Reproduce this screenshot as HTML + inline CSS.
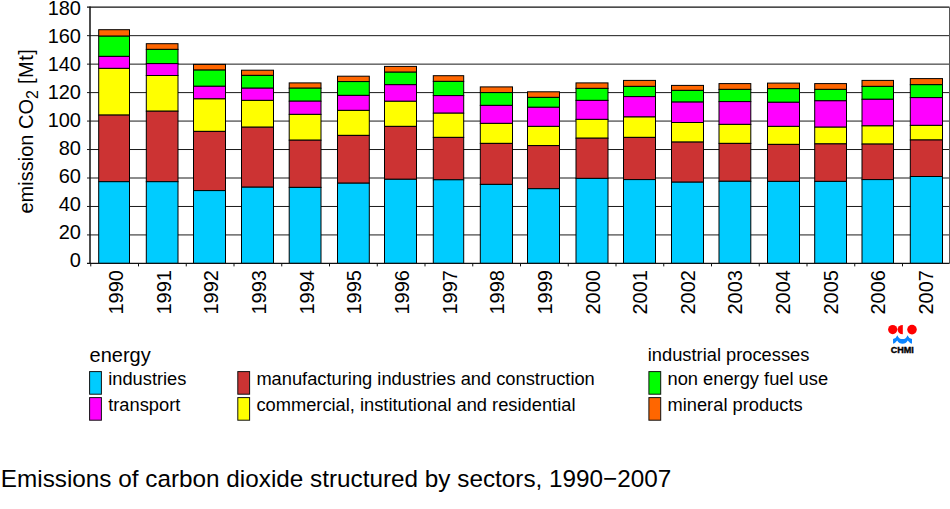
<!DOCTYPE html>
<html><head><meta charset="utf-8"><style>
html,body{margin:0;padding:0;background:#fff;}
body{width:950px;height:509px;overflow:hidden;position:relative;font-family:"Liberation Sans",sans-serif;}
svg{position:absolute;left:0;top:0;}
text{font-family:"Liberation Sans",sans-serif;}
</style></head><body>
<svg width="950" height="509" viewBox="0 0 950 509">
<line x1="87" y1="234.93" x2="949.5" y2="234.93" stroke="#1a1a1a" stroke-width="1"/>
<line x1="87" y1="206.47" x2="949.5" y2="206.47" stroke="#1a1a1a" stroke-width="1"/>
<line x1="87" y1="178" x2="949.5" y2="178" stroke="#1a1a1a" stroke-width="1"/>
<line x1="87" y1="149.53" x2="949.5" y2="149.53" stroke="#1a1a1a" stroke-width="1"/>
<line x1="87" y1="121.07" x2="949.5" y2="121.07" stroke="#1a1a1a" stroke-width="1"/>
<line x1="87" y1="92.6" x2="949.5" y2="92.6" stroke="#1a1a1a" stroke-width="1"/>
<line x1="87" y1="64.13" x2="949.5" y2="64.13" stroke="#1a1a1a" stroke-width="1"/>
<line x1="87" y1="35.67" x2="949.5" y2="35.67" stroke="#1a1a1a" stroke-width="1"/>
<line x1="87" y1="7.2" x2="949.5" y2="7.2" stroke="#111" stroke-width="1.2"/>
<line x1="949.5" y1="7.2" x2="949.5" y2="263.4" stroke="#555" stroke-width="1"/>
<rect x="98.7" y="29.7" width="30.8" height="6.5" fill="#FF6600" stroke="#000" stroke-width="1"/>
<rect x="98.7" y="36.2" width="30.8" height="20.2" fill="#00FF00" stroke="#000" stroke-width="1"/>
<rect x="98.7" y="56.4" width="30.8" height="12" fill="#FF00FF" stroke="#000" stroke-width="1"/>
<rect x="98.7" y="68.4" width="30.8" height="46.7" fill="#FFFF00" stroke="#000" stroke-width="1"/>
<rect x="98.7" y="115.1" width="30.8" height="66.6" fill="#CC3333" stroke="#000" stroke-width="1"/>
<rect x="98.7" y="181.7" width="30.8" height="81.7" fill="#00CCFF" stroke="#000" stroke-width="1"/>
<rect x="146.3" y="43.7" width="31.7" height="5.7" fill="#FF6600" stroke="#000" stroke-width="1"/>
<rect x="146.3" y="49.4" width="31.7" height="14.2" fill="#00FF00" stroke="#000" stroke-width="1"/>
<rect x="146.3" y="63.6" width="31.7" height="11.9" fill="#FF00FF" stroke="#000" stroke-width="1"/>
<rect x="146.3" y="75.5" width="31.7" height="35.7" fill="#FFFF00" stroke="#000" stroke-width="1"/>
<rect x="146.3" y="111.2" width="31.7" height="70.5" fill="#CC3333" stroke="#000" stroke-width="1"/>
<rect x="146.3" y="181.7" width="31.7" height="81.7" fill="#00CCFF" stroke="#000" stroke-width="1"/>
<rect x="193.5" y="64.4" width="32" height="5.7" fill="#FF6600" stroke="#000" stroke-width="1"/>
<rect x="193.5" y="70.1" width="32" height="16.2" fill="#00FF00" stroke="#000" stroke-width="1"/>
<rect x="193.5" y="86.3" width="32" height="12.6" fill="#FF00FF" stroke="#000" stroke-width="1"/>
<rect x="193.5" y="98.9" width="32" height="32.5" fill="#FFFF00" stroke="#000" stroke-width="1"/>
<rect x="193.5" y="131.4" width="32" height="59.2" fill="#CC3333" stroke="#000" stroke-width="1"/>
<rect x="193.5" y="190.6" width="32" height="72.8" fill="#00CCFF" stroke="#000" stroke-width="1"/>
<rect x="241.5" y="70.2" width="32" height="5.2" fill="#FF6600" stroke="#000" stroke-width="1"/>
<rect x="241.5" y="75.4" width="32" height="12.8" fill="#00FF00" stroke="#000" stroke-width="1"/>
<rect x="241.5" y="88.2" width="32" height="12.2" fill="#FF00FF" stroke="#000" stroke-width="1"/>
<rect x="241.5" y="100.4" width="32" height="26.8" fill="#FFFF00" stroke="#000" stroke-width="1"/>
<rect x="241.5" y="127.2" width="32" height="60" fill="#CC3333" stroke="#000" stroke-width="1"/>
<rect x="241.5" y="187.2" width="32" height="76.2" fill="#00CCFF" stroke="#000" stroke-width="1"/>
<rect x="289.2" y="82.9" width="31.8" height="5.3" fill="#FF6600" stroke="#000" stroke-width="1"/>
<rect x="289.2" y="88.2" width="31.8" height="13" fill="#00FF00" stroke="#000" stroke-width="1"/>
<rect x="289.2" y="101.2" width="31.8" height="13.2" fill="#FF00FF" stroke="#000" stroke-width="1"/>
<rect x="289.2" y="114.4" width="31.8" height="25.8" fill="#FFFF00" stroke="#000" stroke-width="1"/>
<rect x="289.2" y="140.2" width="31.8" height="47.2" fill="#CC3333" stroke="#000" stroke-width="1"/>
<rect x="289.2" y="187.4" width="31.8" height="76" fill="#00CCFF" stroke="#000" stroke-width="1"/>
<rect x="337.5" y="76.2" width="31.8" height="5.4" fill="#FF6600" stroke="#000" stroke-width="1"/>
<rect x="337.5" y="81.6" width="31.8" height="13.8" fill="#00FF00" stroke="#000" stroke-width="1"/>
<rect x="337.5" y="95.4" width="31.8" height="15" fill="#FF00FF" stroke="#000" stroke-width="1"/>
<rect x="337.5" y="110.4" width="31.8" height="25" fill="#FFFF00" stroke="#000" stroke-width="1"/>
<rect x="337.5" y="135.4" width="31.8" height="47.8" fill="#CC3333" stroke="#000" stroke-width="1"/>
<rect x="337.5" y="183.2" width="31.8" height="80.2" fill="#00CCFF" stroke="#000" stroke-width="1"/>
<rect x="384.5" y="66.4" width="32" height="5.8" fill="#FF6600" stroke="#000" stroke-width="1"/>
<rect x="384.5" y="72.2" width="32" height="12.5" fill="#00FF00" stroke="#000" stroke-width="1"/>
<rect x="384.5" y="84.7" width="32" height="16.6" fill="#FF00FF" stroke="#000" stroke-width="1"/>
<rect x="384.5" y="101.3" width="32" height="25.1" fill="#FFFF00" stroke="#000" stroke-width="1"/>
<rect x="384.5" y="126.4" width="32" height="52.9" fill="#CC3333" stroke="#000" stroke-width="1"/>
<rect x="384.5" y="179.3" width="32" height="84.1" fill="#00CCFF" stroke="#000" stroke-width="1"/>
<rect x="433.3" y="75.7" width="30.4" height="5.7" fill="#FF6600" stroke="#000" stroke-width="1"/>
<rect x="433.3" y="81.4" width="30.4" height="14.2" fill="#00FF00" stroke="#000" stroke-width="1"/>
<rect x="433.3" y="95.6" width="30.4" height="17.6" fill="#FF00FF" stroke="#000" stroke-width="1"/>
<rect x="433.3" y="113.2" width="30.4" height="24.2" fill="#FFFF00" stroke="#000" stroke-width="1"/>
<rect x="433.3" y="137.4" width="30.4" height="42.4" fill="#CC3333" stroke="#000" stroke-width="1"/>
<rect x="433.3" y="179.8" width="30.4" height="83.6" fill="#00CCFF" stroke="#000" stroke-width="1"/>
<rect x="480.3" y="86.9" width="32.2" height="5.7" fill="#FF6600" stroke="#000" stroke-width="1"/>
<rect x="480.3" y="92.6" width="32.2" height="12.8" fill="#00FF00" stroke="#000" stroke-width="1"/>
<rect x="480.3" y="105.4" width="32.2" height="18" fill="#FF00FF" stroke="#000" stroke-width="1"/>
<rect x="480.3" y="123.4" width="32.2" height="20" fill="#FFFF00" stroke="#000" stroke-width="1"/>
<rect x="480.3" y="143.4" width="32.2" height="41" fill="#CC3333" stroke="#000" stroke-width="1"/>
<rect x="480.3" y="184.4" width="32.2" height="79" fill="#00CCFF" stroke="#000" stroke-width="1"/>
<rect x="527.5" y="91.8" width="32" height="5.6" fill="#FF6600" stroke="#000" stroke-width="1"/>
<rect x="527.5" y="97.4" width="32" height="9.9" fill="#00FF00" stroke="#000" stroke-width="1"/>
<rect x="527.5" y="107.3" width="32" height="19.1" fill="#FF00FF" stroke="#000" stroke-width="1"/>
<rect x="527.5" y="126.4" width="32" height="19.2" fill="#FFFF00" stroke="#000" stroke-width="1"/>
<rect x="527.5" y="145.6" width="32" height="43.1" fill="#CC3333" stroke="#000" stroke-width="1"/>
<rect x="527.5" y="188.7" width="32" height="74.7" fill="#00CCFF" stroke="#000" stroke-width="1"/>
<rect x="576" y="82.9" width="32" height="5.5" fill="#FF6600" stroke="#000" stroke-width="1"/>
<rect x="576" y="88.4" width="32" height="12" fill="#00FF00" stroke="#000" stroke-width="1"/>
<rect x="576" y="100.4" width="32" height="19" fill="#FF00FF" stroke="#000" stroke-width="1"/>
<rect x="576" y="119.4" width="32" height="18.8" fill="#FFFF00" stroke="#000" stroke-width="1"/>
<rect x="576" y="138.2" width="32" height="40.2" fill="#CC3333" stroke="#000" stroke-width="1"/>
<rect x="576" y="178.4" width="32" height="85" fill="#00CCFF" stroke="#000" stroke-width="1"/>
<rect x="623.5" y="80.4" width="32" height="6" fill="#FF6600" stroke="#000" stroke-width="1"/>
<rect x="623.5" y="86.4" width="32" height="10.2" fill="#00FF00" stroke="#000" stroke-width="1"/>
<rect x="623.5" y="96.6" width="32" height="20.4" fill="#FF00FF" stroke="#000" stroke-width="1"/>
<rect x="623.5" y="117" width="32" height="20.4" fill="#FFFF00" stroke="#000" stroke-width="1"/>
<rect x="623.5" y="137.4" width="32" height="42.2" fill="#CC3333" stroke="#000" stroke-width="1"/>
<rect x="623.5" y="179.6" width="32" height="83.8" fill="#00CCFF" stroke="#000" stroke-width="1"/>
<rect x="671.5" y="85.4" width="32" height="5" fill="#FF6600" stroke="#000" stroke-width="1"/>
<rect x="671.5" y="90.4" width="32" height="11.7" fill="#00FF00" stroke="#000" stroke-width="1"/>
<rect x="671.5" y="102.1" width="32" height="20.4" fill="#FF00FF" stroke="#000" stroke-width="1"/>
<rect x="671.5" y="122.5" width="32" height="19.6" fill="#FFFF00" stroke="#000" stroke-width="1"/>
<rect x="671.5" y="142.1" width="32" height="40.1" fill="#CC3333" stroke="#000" stroke-width="1"/>
<rect x="671.5" y="182.2" width="32" height="81.2" fill="#00CCFF" stroke="#000" stroke-width="1"/>
<rect x="719" y="83.6" width="31.8" height="5.8" fill="#FF6600" stroke="#000" stroke-width="1"/>
<rect x="719" y="89.4" width="31.8" height="12.2" fill="#00FF00" stroke="#000" stroke-width="1"/>
<rect x="719" y="101.6" width="31.8" height="22.8" fill="#FF00FF" stroke="#000" stroke-width="1"/>
<rect x="719" y="124.4" width="31.8" height="19" fill="#FFFF00" stroke="#000" stroke-width="1"/>
<rect x="719" y="143.4" width="31.8" height="37.9" fill="#CC3333" stroke="#000" stroke-width="1"/>
<rect x="719" y="181.3" width="31.8" height="82.1" fill="#00CCFF" stroke="#000" stroke-width="1"/>
<rect x="767.5" y="83.1" width="32" height="5.6" fill="#FF6600" stroke="#000" stroke-width="1"/>
<rect x="767.5" y="88.7" width="32" height="13.6" fill="#00FF00" stroke="#000" stroke-width="1"/>
<rect x="767.5" y="102.3" width="32" height="24.1" fill="#FF00FF" stroke="#000" stroke-width="1"/>
<rect x="767.5" y="126.4" width="32" height="18" fill="#FFFF00" stroke="#000" stroke-width="1"/>
<rect x="767.5" y="144.4" width="32" height="37" fill="#CC3333" stroke="#000" stroke-width="1"/>
<rect x="767.5" y="181.4" width="32" height="82" fill="#00CCFF" stroke="#000" stroke-width="1"/>
<rect x="814.7" y="83.6" width="31.8" height="5.8" fill="#FF6600" stroke="#000" stroke-width="1"/>
<rect x="814.7" y="89.4" width="31.8" height="11.4" fill="#00FF00" stroke="#000" stroke-width="1"/>
<rect x="814.7" y="100.8" width="31.8" height="26.4" fill="#FF00FF" stroke="#000" stroke-width="1"/>
<rect x="814.7" y="127.2" width="31.8" height="16.7" fill="#FFFF00" stroke="#000" stroke-width="1"/>
<rect x="814.7" y="143.9" width="31.8" height="37.5" fill="#CC3333" stroke="#000" stroke-width="1"/>
<rect x="814.7" y="181.4" width="31.8" height="82" fill="#00CCFF" stroke="#000" stroke-width="1"/>
<rect x="862" y="80.4" width="31.5" height="6" fill="#FF6600" stroke="#000" stroke-width="1"/>
<rect x="862" y="86.4" width="31.5" height="12.9" fill="#00FF00" stroke="#000" stroke-width="1"/>
<rect x="862" y="99.3" width="31.5" height="26.6" fill="#FF00FF" stroke="#000" stroke-width="1"/>
<rect x="862" y="125.9" width="31.5" height="18.2" fill="#FFFF00" stroke="#000" stroke-width="1"/>
<rect x="862" y="144.1" width="31.5" height="35.5" fill="#CC3333" stroke="#000" stroke-width="1"/>
<rect x="862" y="179.6" width="31.5" height="83.8" fill="#00CCFF" stroke="#000" stroke-width="1"/>
<rect x="910.3" y="78.6" width="32.2" height="6.1" fill="#FF6600" stroke="#000" stroke-width="1"/>
<rect x="910.3" y="84.7" width="32.2" height="12.9" fill="#00FF00" stroke="#000" stroke-width="1"/>
<rect x="910.3" y="97.6" width="32.2" height="27.8" fill="#FF00FF" stroke="#000" stroke-width="1"/>
<rect x="910.3" y="125.4" width="32.2" height="14.6" fill="#FFFF00" stroke="#000" stroke-width="1"/>
<rect x="910.3" y="140" width="32.2" height="36.5" fill="#CC3333" stroke="#000" stroke-width="1"/>
<rect x="910.3" y="176.5" width="32.2" height="86.9" fill="#00CCFF" stroke="#000" stroke-width="1"/>
<line x1="90" y1="6.6" x2="90" y2="264" stroke="#111" stroke-width="1.5"/>
<line x1="87" y1="263.4" x2="949.5" y2="263.4" stroke="#111" stroke-width="1.2"/>
<line x1="90.75" y1="263.4" x2="90.75" y2="266.4" stroke="#111" stroke-width="1"/>
<line x1="138.5" y1="263.4" x2="138.5" y2="266.4" stroke="#111" stroke-width="1"/>
<line x1="186.25" y1="263.4" x2="186.25" y2="266.4" stroke="#111" stroke-width="1"/>
<line x1="234" y1="263.4" x2="234" y2="266.4" stroke="#111" stroke-width="1"/>
<line x1="281.75" y1="263.4" x2="281.75" y2="266.4" stroke="#111" stroke-width="1"/>
<line x1="329.5" y1="263.4" x2="329.5" y2="266.4" stroke="#111" stroke-width="1"/>
<line x1="377.25" y1="263.4" x2="377.25" y2="266.4" stroke="#111" stroke-width="1"/>
<line x1="425" y1="263.4" x2="425" y2="266.4" stroke="#111" stroke-width="1"/>
<line x1="472.75" y1="263.4" x2="472.75" y2="266.4" stroke="#111" stroke-width="1"/>
<line x1="520.5" y1="263.4" x2="520.5" y2="266.4" stroke="#111" stroke-width="1"/>
<line x1="568.25" y1="263.4" x2="568.25" y2="266.4" stroke="#111" stroke-width="1"/>
<line x1="616" y1="263.4" x2="616" y2="266.4" stroke="#111" stroke-width="1"/>
<line x1="663.75" y1="263.4" x2="663.75" y2="266.4" stroke="#111" stroke-width="1"/>
<line x1="711.5" y1="263.4" x2="711.5" y2="266.4" stroke="#111" stroke-width="1"/>
<line x1="759.25" y1="263.4" x2="759.25" y2="266.4" stroke="#111" stroke-width="1"/>
<line x1="807" y1="263.4" x2="807" y2="266.4" stroke="#111" stroke-width="1"/>
<line x1="854.75" y1="263.4" x2="854.75" y2="266.4" stroke="#111" stroke-width="1"/>
<line x1="902.5" y1="263.4" x2="902.5" y2="266.4" stroke="#111" stroke-width="1"/>
<text transform="translate(81,267.15) scale(1,1.035)" font-size="20" text-anchor="end">0</text>
<text transform="translate(81,239.09) scale(1,1.035)" font-size="20" text-anchor="end">20</text>
<text transform="translate(81,211.03) scale(1,1.035)" font-size="20" text-anchor="end">40</text>
<text transform="translate(81,182.97) scale(1,1.035)" font-size="20" text-anchor="end">60</text>
<text transform="translate(81,154.91) scale(1,1.035)" font-size="20" text-anchor="end">80</text>
<text transform="translate(81,126.85) scale(1,1.035)" font-size="20" text-anchor="end">100</text>
<text transform="translate(81,98.79) scale(1,1.035)" font-size="20" text-anchor="end">120</text>
<text transform="translate(81,70.73) scale(1,1.035)" font-size="20" text-anchor="end">140</text>
<text transform="translate(81,42.67) scale(1,1.035)" font-size="20" text-anchor="end">160</text>
<text transform="translate(81,14.61) scale(1,1.035)" font-size="20" text-anchor="end">180</text>
<text transform="translate(122.9,270) rotate(-90)" font-size="20" text-anchor="end">1990</text>
<text transform="translate(170.56,270) rotate(-90)" font-size="20" text-anchor="end">1991</text>
<text transform="translate(218.22,270) rotate(-90)" font-size="20" text-anchor="end">1992</text>
<text transform="translate(265.88,270) rotate(-90)" font-size="20" text-anchor="end">1993</text>
<text transform="translate(313.54,270) rotate(-90)" font-size="20" text-anchor="end">1994</text>
<text transform="translate(361.2,270) rotate(-90)" font-size="20" text-anchor="end">1995</text>
<text transform="translate(408.86,270) rotate(-90)" font-size="20" text-anchor="end">1996</text>
<text transform="translate(456.52,270) rotate(-90)" font-size="20" text-anchor="end">1997</text>
<text transform="translate(504.18,270) rotate(-90)" font-size="20" text-anchor="end">1998</text>
<text transform="translate(551.84,270) rotate(-90)" font-size="20" text-anchor="end">1999</text>
<text transform="translate(599.5,270) rotate(-90)" font-size="20" text-anchor="end">2000</text>
<text transform="translate(647.16,270) rotate(-90)" font-size="20" text-anchor="end">2001</text>
<text transform="translate(694.82,270) rotate(-90)" font-size="20" text-anchor="end">2002</text>
<text transform="translate(742.48,270) rotate(-90)" font-size="20" text-anchor="end">2003</text>
<text transform="translate(790.14,270) rotate(-90)" font-size="20" text-anchor="end">2004</text>
<text transform="translate(837.8,270) rotate(-90)" font-size="20" text-anchor="end">2005</text>
<text transform="translate(885.46,270) rotate(-90)" font-size="20" text-anchor="end">2006</text>
<text transform="translate(933.12,270) rotate(-90)" font-size="20" text-anchor="end">2007</text>
<text transform="translate(32.5,213.5) rotate(-90)" font-size="20">emission CO<tspan font-size="16" dy="5">2</tspan><tspan dy="-5" letter-spacing="0.5"> [Mt]</tspan></text>
<text x="89.55" y="362.1" font-size="20">energy</text>
<text x="647.8" y="361.1" font-size="18.3">industrial processes</text>
<rect x="89.6" y="371.6" width="11.8" height="22.6" fill="#00CCFF" stroke="#111" stroke-width="1"/>
<text x="108.2" y="384.8" font-size="18.3">industries</text>
<rect x="89.6" y="397.6" width="11.8" height="22.6" fill="#FF00FF" stroke="#111" stroke-width="1"/>
<text x="108.2" y="410.8" font-size="18.3">transport</text>
<rect x="237.8" y="371.6" width="11.8" height="22.6" fill="#CC3333" stroke="#111" stroke-width="1"/>
<text x="256.4" y="384.8" font-size="18.3">manufacturing industries and construction</text>
<rect x="237.8" y="397.6" width="11.8" height="22.6" fill="#FFFF00" stroke="#111" stroke-width="1"/>
<text x="256.4" y="410.8" font-size="18.3">commercial, institutional and residential</text>
<rect x="648.9" y="371.6" width="11.8" height="22.6" fill="#00FF00" stroke="#111" stroke-width="1"/>
<text x="667.5" y="384.8" font-size="18.3">non energy fuel use</text>
<rect x="648.9" y="397.6" width="11.8" height="22.6" fill="#FF6600" stroke="#111" stroke-width="1"/>
<text x="667.5" y="410.8" font-size="18.3">mineral products</text>
<circle cx="892.7" cy="329.6" r="4.6" fill="#FF0000"/>
<path d="M902.8 324.9 A5.3 4.7 0 0 0 902.8 334.3 Z" fill="#FF0000"/>
<circle cx="912" cy="329.6" r="4.8" fill="#FF0000"/>
<path d="M893.05 339.1 Q896 338.6 897.4 335.2 Q898.8 339.1 902.5 339.1 Q906.2 339.1 907.4 335.2 Q909 338.6 912 339.1 L912 343.8 Q909.5 343 907.7 340.5 Q906 343.8 902.5 343.8 Q899 343.8 897.2 340.5 Q895.5 343 893.05 343.8 Z" fill="#0A84FF"/>
<text transform="translate(902.3,352.8) scale(1.08,1)" font-size="8.4" font-weight="bold" text-anchor="middle" stroke="#000" stroke-width="0.35">CHMI</text>
<text x="0.8" y="487" font-size="24.3">Emissions of carbon dioxide structured by sectors, 1990&#8722;2007</text>
</svg>
</body></html>
